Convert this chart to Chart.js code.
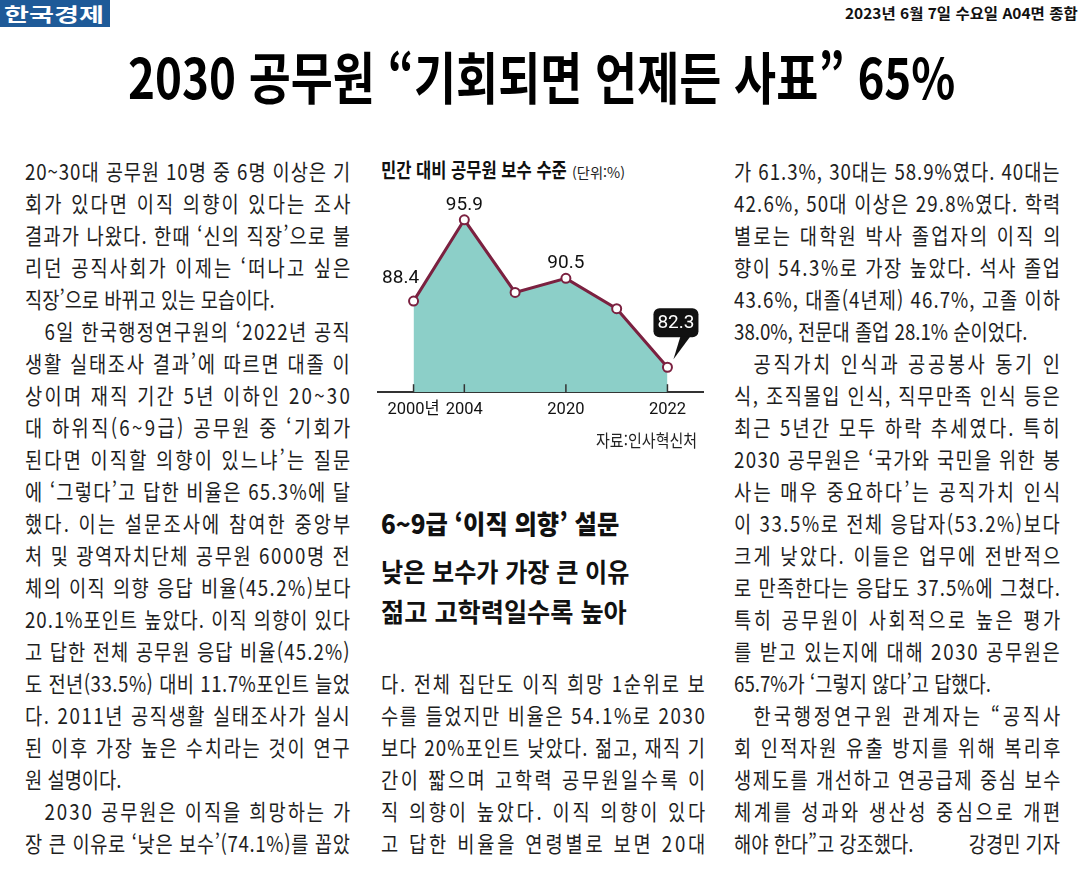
<!DOCTYPE html>
<html lang="ko">
<head>
<meta charset="utf-8">
<title>2030 공무원 “기회되면 언제든 사표” 65%</title>
<script src="https://cdn.jsdelivr.net/npm/chart.js@4.4.1/dist/chart.umd.min.js"></script>
<style>
  html, body { margin: 0; padding: 0; background: #fff; }
  body { position: relative; width: 1085px; height: 876px; overflow: hidden;
         font-family: "Noto Sans CJK KR", "Noto Sans", sans-serif; color: #1e1e1e; }
  .abs { position: absolute; white-space: nowrap; }
  .fit { display: inline-block; transform-origin: 0 50%; }
  #brand { left: 0; top: 0; width: 110px; height: 27px; background: #1e5a98; }
  #brand span { color: #fff; font-size: 19px; line-height: 27px; font-weight: 700; margin-left: 4px; }
  #date { left: 845px; top: 2px; font-size: 15px; line-height: 22px; font-weight: 700; color: #111; }
  #headline { left: 128px; top: 42px; font-size: 56px; line-height: 66px; font-weight: 700; color: #000; }
  #chartTitle { left: 381px; top: 156px; font-size: 20px; line-height: 28px; font-weight: 700; color: #111; }
  #chartUnit { left: 572px; top: 160px; font-size: 14px; line-height: 24px; color: #222; }
  #chartSource { left: 596px; top: 427px; font-size: 17px; line-height: 26px; color: #222; }
  #payChart { position: absolute; left: 370px; top: 175px; }
  .sub { left: 381px; font-size: 26px; line-height: 34px; color: #111; }
  #sub1 { top: 506px; font-weight: 900; }
  #sub2 { top: 554px; font-weight: 700; }
  #sub3 { top: 594px; font-weight: 700; }
  .col { position: absolute; top: 154px; transform-origin: 0 0; }
  .ln { position: absolute; left: 0; height: 32px; line-height: 32px; white-space: nowrap; font-size: 22px; }
  .ln .by { position: absolute; right: 0; top: 0; }
</style>
</head>
<body>

<div id="brand" class="abs"><span class="fit" data-w="100">한국경제</span></div>
<div id="date" class="abs"><span class="fit" data-w="233">2023년 6월 7일 수요일 A04면 종합</span></div>
<div id="headline" class="abs"><span class="fit" data-w="827">2030 공무원 “기회되면 언제든 사표” 65%</span></div>

<div id="chartTitle" class="abs"><span class="fit" data-w="186">민간 대비 공무원 보수 수준</span></div>
<div id="chartUnit" class="abs"><span class="fit" data-w="53">(단위:%)</span></div>
<canvas id="payChart" width="340" height="253"></canvas>
<div id="chartSource" class="abs"><span class="fit" data-w="101">자료:인사혁신처</span></div>

<div id="sub1" class="abs sub"><span class="fit" data-w="238">6~9급 ‘이직 의향’ 설문</span></div>
<div id="sub2" class="abs sub"><span class="fit" data-w="248">낮은 보수가 가장 큰 이유</span></div>
<div id="sub3" class="abs sub"><span class="fit" data-w="246">젊고 고학력일수록 높아</span></div>

<div id="colLeft" class="col"></div>
<div id="colMid" class="col"></div>
<div id="colRight" class="col"></div>

<script>
// chart data
var years = ['2000년', '2004', '', '2020', '', '2022'];
var payLevel = [88.4, 95.9, 89.2, 90.5, 87.7, 82.3];

// article text, one entry per printed line
// ^ = paragraph indent, $ = last line of paragraph, @ splits off the byline
var leftLines = [
  '20~30대 공무원 10명 중 6명 이상은 기',
  '회가 있다면 이직 의향이 있다는 조사',
  '결과가 나왔다. 한때 ‘신의 직장’으로 불',
  '리던 공직사회가 이제는 ‘떠나고 싶은',
  '직장’으로 바뀌고 있는 모습이다.$',
  '^6일 한국행정연구원의 ‘2022년 공직',
  '생활 실태조사 결과’에 따르면 대졸 이',
  '상이며 재직 기간 5년 이하인 20~30',
  '대 하위직(6~9급) 공무원 중 ‘기회가',
  '된다면 이직할 의향이 있느냐’는 질문',
  '에 ‘그렇다’고 답한 비율은 65.3%에 달',
  '했다. 이는 설문조사에 참여한 중앙부',
  '처 및 광역자치단체 공무원 6000명 전',
  '체의 이직 의향 응답 비율(45.2%)보다',
  '20.1%포인트 높았다. 이직 의향이 있다',
  '고 답한 전체 공무원 응답 비율(45.2%)',
  '도 전년(33.5%) 대비 11.7%포인트 늘었',
  '다. 2011년 공직생활 실태조사가 실시',
  '된 이후 가장 높은 수치라는 것이 연구',
  '원 설명이다.$',
  '^2030 공무원은 이직을 희망하는 가',
  '장 큰 이유로 ‘낮은 보수’(74.1%)를 꼽았'
];

var midLines = [
  '다. 전체 집단도 이직 희망 1순위로 보',
  '수를 들었지만 비율은 54.1%로 2030',
  '보다 20%포인트 낮았다. 젊고, 재직 기',
  '간이 짧으며 고학력 공무원일수록 이',
  '직 의향이 높았다. 이직 의향이 있다',
  '고 답한 비율을 연령별로 보면 20대'
];

var rightLines = [
  '가 61.3%, 30대는 58.9%였다. 40대는',
  '42.6%, 50대 이상은 29.8%였다. 학력',
  '별로는 대학원 박사 졸업자의 이직 의',
  '향이 54.3%로 가장 높았다. 석사 졸업',
  '43.6%, 대졸(4년제) 46.7%, 고졸 이하',
  '38.0%, 전문대 졸업 28.1% 순이었다.$',
  '^공직가치 인식과 공공봉사 동기 인',
  '식, 조직몰입 인식, 직무만족 인식 등은',
  '최근 5년간 모두 하락 추세였다. 특히',
  '2030 공무원은 ‘국가와 국민을 위한 봉',
  '사는 매우 중요하다’는 공직가치 인식',
  '이 33.5%로 전체 응답자(53.2%)보다',
  '크게 낮았다. 이들은 업무에 전반적으',
  '로 만족한다는 응답도 37.5%에 그쳤다.',
  '특히 공무원이 사회적으로 높은 평가',
  '를 받고 있는지에 대해 2030 공무원은',
  '65.7%가 ‘그렇지 않다’고 답했다.$',
  '^한국행정연구원 관계자는 “공직사',
  '회 인적자원 유출 방지를 위해 복리후',
  '생제도를 개선하고 연공급제 중심 보수',
  '체계를 성과와 생산성 중심으로 개편',
  '해야 한다”고 강조했다.@강경민 기자'
];

var ROW = 32;
var SQUEEZE = 0.85;
var INDENT = 23;

function fitAll() {
  document.querySelectorAll('.fit').forEach(function (el) {
    var w = +el.getAttribute('data-w');
    el.style.transform = 'scaleX(' + (w / el.offsetWidth) + ')';
  });
}

function buildColumn(id, left, width, firstRow, lines) {
  var col = document.getElementById(id);
  var inner = width / SQUEEZE;
  col.style.left = left + 'px';
  col.style.width = inner + 'px';
  col.style.transform = 'scaleX(' + SQUEEZE + ')';

  lines.forEach(function (raw, i) {
    var indent = raw.charAt(0) === '^';
    var last = raw.slice(-1) === '$';
    var text = raw.replace(/^\^/, '').replace(/\$$/, '');
    var parts = text.split('@');

    var ln = document.createElement('div');
    ln.className = 'ln';
    ln.style.top = ((firstRow + i) * ROW) + 'px';
    ln.style.width = inner + 'px';
    var span = document.createElement('span');
    span.textContent = parts[0];
    if (indent) span.style.marginLeft = INDENT + 'px';
    ln.appendChild(span);
    if (parts[1]) {
      var by = document.createElement('span');
      by.className = 'by';
      by.textContent = parts[1];
      ln.appendChild(by);
    }
    col.appendChild(ln);

    if (last || parts[1]) return;
    // spread the line to the full column width
    var avail = inner - (indent ? INDENT : 0);
    var n = Array.from(parts[0]).length;
    var ls = (avail - span.offsetWidth) / (n - 1);
    span.style.letterSpacing = ls + 'px';
    span.style.marginRight = (-ls) + 'px';
  });
}

buildColumn('colLeft', 25, 325, 0, leftLines);
buildColumn('colMid', 381, 324, 16, midLines);
buildColumn('colRight', 734, 326, 0, rightLines);
fitAll();

var LINE_COLOR = '#7b2140';
var FILL_COLOR = '#8ccfc8';
var NUM_FONT = 'Roboto, "Noto Sans CJK KR", sans-serif';

// short upward ticks on the axis and the value labels
var chartMarks = {
  id: 'chartMarks',
  afterDatasetsDraw: function (chart) {
    var ctx = chart.ctx;
    var xs = chart.scales.x;
    var bottom = chart.chartArea.bottom;
    ctx.save();
    ctx.strokeStyle = '#333';
    ctx.lineWidth = 1.5;
    xs.ticks.forEach(function (t) {
      var x = xs.getPixelForValue(t.value);
      ctx.beginPath();
      ctx.moveTo(x, bottom);
      ctx.lineTo(x, bottom - 8);
      ctx.stroke();
    });

    var pts = chart.getDatasetMeta(0).data;
    ctx.font = '19px ' + NUM_FONT;
    ctx.textAlign = 'center';
    ctx.textBaseline = 'middle';
    payLevel.forEach(function (v, i) {
      if (years[i] === '') return;
      var p = pts[i];
      var text = v.toFixed(1);
      if (i === payLevel.length - 1) {
        ctx.fillStyle = '#111';
        ctx.beginPath();
        if (ctx.roundRect) ctx.roundRect(p.x - 14, p.y - 59, 45, 29, 6);
        else ctx.rect(p.x - 14, p.y - 59, 45, 29);
        ctx.fill();
        ctx.beginPath();
        ctx.moveTo(p.x + 13, p.y - 31);
        ctx.lineTo(p.x + 23, p.y - 31);
        ctx.lineTo(p.x + 6, p.y - 8);
        ctx.closePath();
        ctx.fill();
        ctx.fillStyle = '#fff';
        ctx.fillText(text, p.x + 8.5, p.y - 44);
      } else {
        ctx.fillStyle = '#111';
        ctx.fillText(text, p.x + (i === 0 ? -13 : 0), p.y + (i === 0 ? -23 : -15));
      }
    });
    ctx.restore();
  }
};

new Chart(document.getElementById('payChart'), {
  type: 'line',
  data: {
    datasets: [{
      data: payLevel.map(function (v, i) { return { x: i, y: v }; }),
      borderColor: LINE_COLOR,
      borderWidth: 3,
      backgroundColor: FILL_COLOR,
      fill: 'start',
      tension: 0,
      pointRadius: 4.5,
      pointBorderWidth: 2,
      pointBackgroundColor: '#fff',
      pointBorderColor: LINE_COLOR
    }]
  },
  options: {
    responsive: false,
    animation: false,
    layout: { padding: { top: 9, left: 8, right: 7, bottom: 0 } },
    plugins: { legend: { display: false }, tooltip: { enabled: false } },
    scales: {
      x: {
        type: 'linear',
        min: -0.7,
        max: 5.7,
        afterBuildTicks: function (scale) {
          scale.ticks = years
            .map(function (y, i) { return { value: i, label: y }; })
            .filter(function (t) { return t.label !== ''; });
        },
        grid: { display: false, drawTicks: false },
        border: { display: true, color: '#333', width: 2 },
        ticks: {
          autoSkip: false,
          maxRotation: 0,
          padding: 8,
          color: '#111',
          font: { family: NUM_FONT, size: 16.5 },
          callback: function (value) { return years[value]; }
        }
      },
      y: { display: false, min: 80, max: 99.2 }
    }
  },
  plugins: [chartMarks]
});
</script>
</body>
</html>
